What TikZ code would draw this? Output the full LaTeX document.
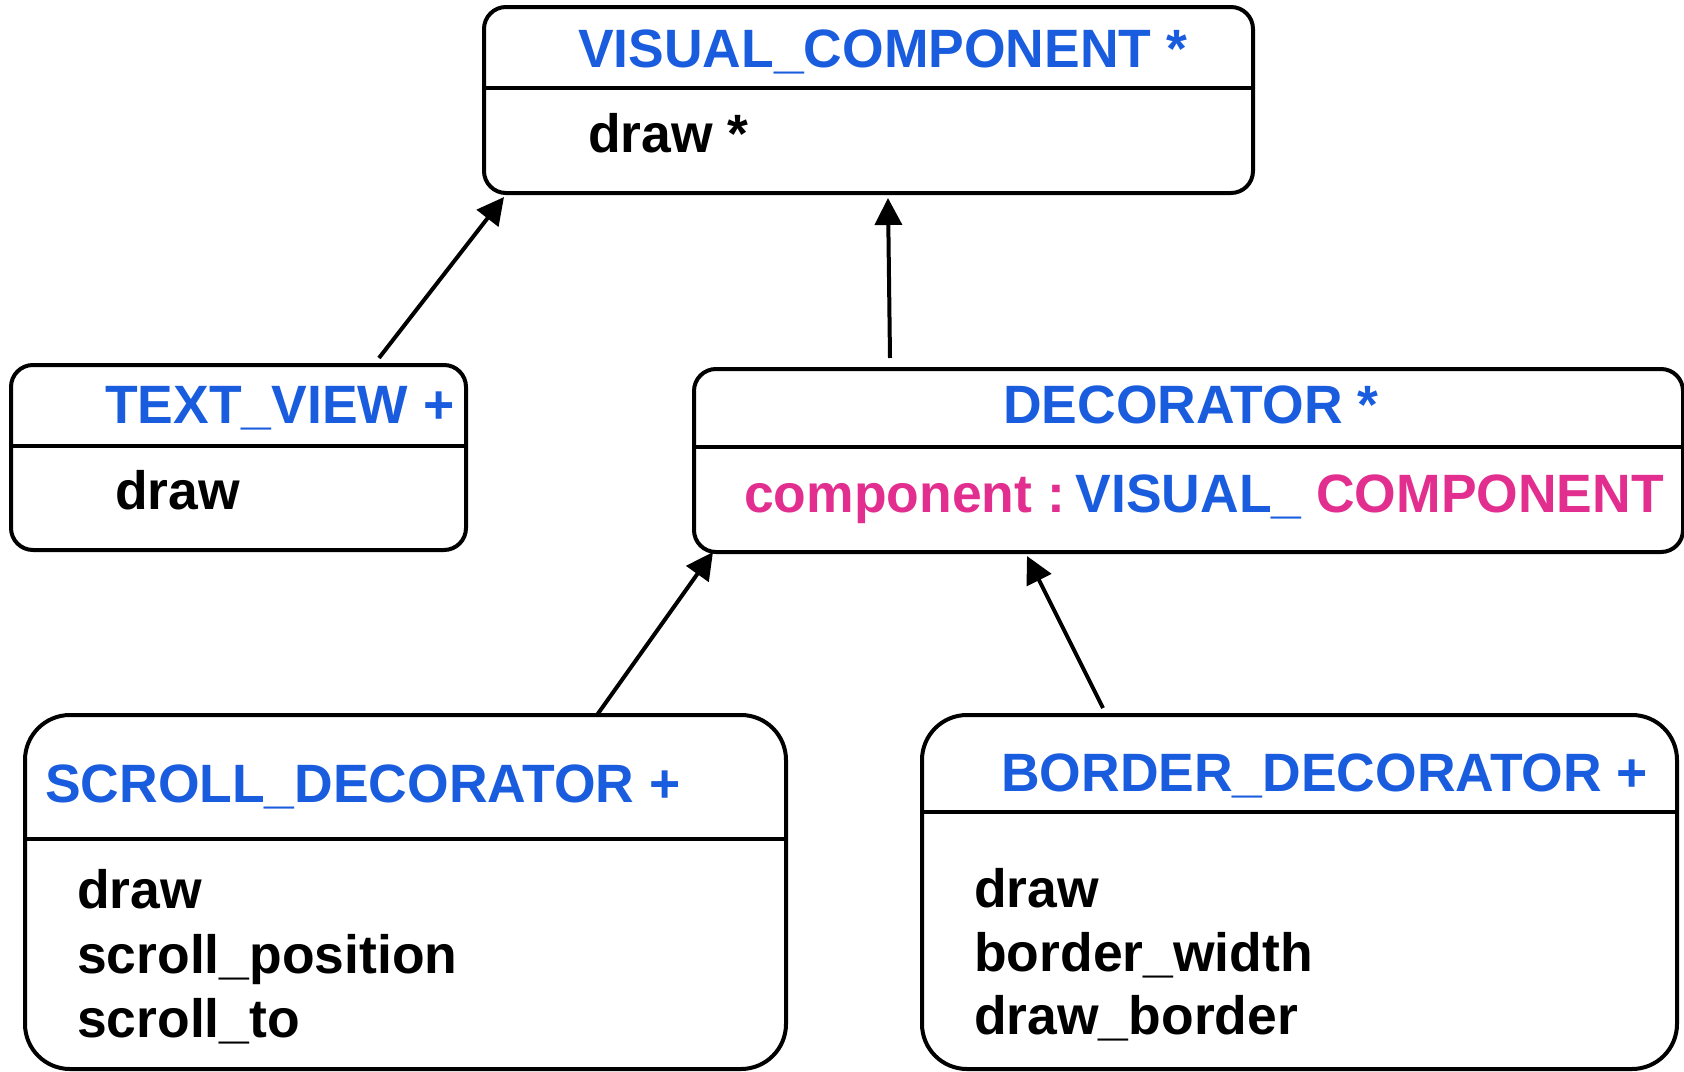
\documentclass[tikz,border=0pt]{standalone}
\usepackage{fontspec}
\setmainfont{Liberation Sans}[FakeStretch=0.99]
\usetikzlibrary{arrows.meta}
\definecolor{umlblue}{RGB}{26,92,222}
\definecolor{umlpink}{RGB}{226,46,142}
\tikzset{
  classbox/.style={draw=black, line width=4pt, rounded corners=#1, inner sep=0pt, outer sep=0pt, anchor=north west},
  classbox/.default=22pt,
  divider/.style={line width=4pt},
  title/.style={anchor=base west, inner sep=0pt, text=umlblue},
  member/.style={anchor=base west, inner sep=0pt, text=black},
  inherit/.style={line width=4pt, -{Triangle[length=27pt,width=27pt]}}
}
\begin{document}
\begin{tikzpicture}[x=1pt,y=-1pt,font=\bfseries\fontsize{54}{60}\selectfont]
\useasboundingbox (0,0) rectangle (1684,1071);
% boxes
\node[classbox, minimum width=769pt, minimum height=186pt] (vc) at (484,7) {};
\node[classbox, minimum width=455pt, minimum height=185pt] (tv) at (11,365) {};
\node[classbox, minimum width=989pt, minimum height=183pt] (dec) at (694,369) {};
\node[classbox=45pt, minimum width=761pt, minimum height=354pt] (sd) at (25,715) {};
\node[classbox=45pt, minimum width=755pt, minimum height=354pt] (bd) at (922,715) {};
% dividers
\draw[divider] (vc.west |- 0,88) -- (vc.east |- 0,88);
\draw[divider] (tv.west |- 0,446) -- (tv.east |- 0,446);
\draw[divider] (dec.west |- 0,447) -- (dec.east |- 0,447);
\draw[divider] (sd.west |- 0,839) -- (sd.east |- 0,839);
\draw[divider] (bd.west |- 0,812) -- (bd.east |- 0,812);
% texts
\node[title] (vct) at (578,67) {VISUAL\_COMPONENT *};
\node[member] (vcm) at (588,152) {draw *};
\node[title] (tvt) at (105,423) {TEXT\_VIEW +};
\node[member] (tvm) at (115,509) {draw};
\node[title] (dect) at (1003,423) {DECORATOR *};
\node[member] (decm) at (744,512) {\textcolor{umlpink}{component :}\hspace{0.2em}\textcolor{umlblue}{VISUAL\_} \textcolor{umlpink}{COMPONENT}};
\node[title] (sdt) at (45,802) {SCROLL\_DECORATOR +};
\node[member] (sdm1) at (77,908) {draw};
\node[member] (sdm2) at (77,973) {scroll\_position};
\node[member] (sdm3) at (77,1037) {scroll\_to};
\node[title] (bdt) at (1001,791) {BORDER\_DECORATOR +};
\node[member] (bdm1) at (974,907) {draw};
\node[member] (bdm2) at (974,971) {border\_width};
\node[member] (bdm3) at (974,1034) {draw\_border};
% connector ends
\coordinate (tvfrom) at (379,358);
\coordinate (tvto) at (504,197);
\coordinate (decfrom) at (890,358);
\coordinate (decto) at (888,198);
\coordinate (sdfrom) at (597,715);
\coordinate (sdto) at (713,552);
\coordinate (bdfrom) at (1103,708);
\coordinate (bdto) at (1027,556);
\draw[inherit] (tvfrom) -- (tvto);
\draw[inherit] (decfrom) -- (decto);
\draw[inherit] (sdfrom) -- (sdto);
\draw[inherit] (bdfrom) -- (bdto);
\end{tikzpicture}
\end{document}
